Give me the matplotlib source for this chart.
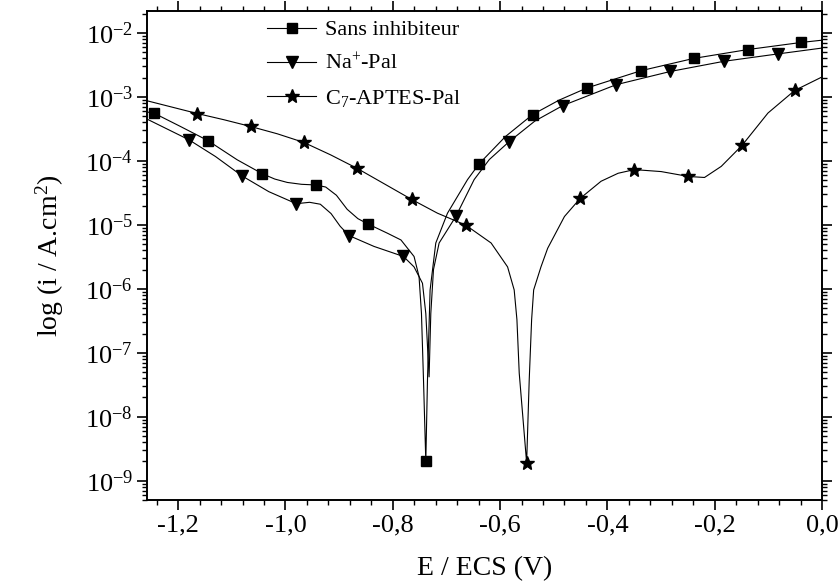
import matplotlib
matplotlib.use("Agg")
import matplotlib.pyplot as plt
from matplotlib.ticker import MultipleLocator, FuncFormatter, LogLocator, LogFormatterMathtext

plt.rcParams['font.family'] = ['Liberation Serif', 'DejaVu Serif']
plt.rcParams['mathtext.fontset'] = 'custom'
plt.rcParams['mathtext.rm'] = 'Liberation Serif'
plt.rcParams['mathtext.it'] = 'Liberation Serif:italic'

# Sans inhibiteur
sans_E = [-1.258, -1.2455, -1.1957, -1.1448, -1.09, -1.0432, -1.02, -0.9966, -0.97, -0.9437,
          -0.925, -0.905, -0.885, -0.865, -0.8461, -0.81, -0.7847, -0.7603, -0.751, -0.7465,
          -0.7427, -0.7384, -0.7353, -0.7304, -0.7198, -0.698, -0.6606, -0.639, -0.59, -0.5393,
          -0.49, -0.438, -0.3372, -0.2388, -0.138, -0.0386, 0.0]
sans_i = [5.8e-4, 5.6e-4, 3.45e-4, 2.08e-4, 1.04e-4, 6.3e-5, 5.2e-5, 4.6e-5, 4.3e-5, 4.2e-5,
          3.9e-5, 2.9e-5, 1.75e-5, 1.25e-5, 1.03e-5, 7.4e-6, 5.8e-6, 3.2e-6, 1.55e-6, 4.1e-7,
          3.75e-8, 2.0e-9, 3.75e-8, 9.6e-7, 5.2e-6, 1.52e-5, 5.1e-5, 9.0e-5, 2.4e-4, 5.3e-4,
          8.9e-4, 1.38e-3, 2.57e-3, 4.0e-3, 5.5e-3, 7.1e-3, 7.7e-3]
sans_mk_E = [-1.2455, -1.1448, -1.0432, -0.9437, -0.8461, -0.7384, -0.639, -0.5393, -0.438,
             -0.3372, -0.2388, -0.138, -0.0386]
sans_mk_i = [5.6e-4, 2.08e-4, 6.3e-5, 4.2e-5, 1.03e-5, 2.0e-9, 9.0e-5, 5.3e-4, 1.38e-3,
             2.57e-3, 4.0e-3, 5.5e-3, 7.1e-3]

# Na+-Pal
na_E = [-1.258, -1.18, -1.1304, -1.0806, -1.031, -0.9798, -0.955, -0.935, -0.915, -0.898,
        -0.8816, -0.835, -0.78, -0.7603, -0.7446, -0.7384, -0.7323, -0.7291, -0.7241, -0.7136,
        -0.6825, -0.6483, -0.62, -0.583, -0.535, -0.4833, -0.3838, -0.2825, -0.1828, -0.082, 0.0]
na_i = [4.5e-4, 2.14e-4, 1.17e-4, 5.8e-5, 3.3e-5, 2.14e-5, 2.25e-5, 2.1e-5, 1.5e-5, 9.5e-6,
        6.8e-6, 4.6e-6, 3.2e-6, 2.2e-6, 1.22e-6, 4.1e-7, 4.2e-8, 4.1e-7, 2.0e-6, 5.2e-6,
        1.35e-5, 5.1e-5, 1.05e-4, 2.0e-4, 4.2e-4, 7.3e-4, 1.55e-3, 2.5e-3, 3.6e-3, 4.7e-3, 5.8e-3]
na_mk_E = [-1.18, -1.0806, -0.9798, -0.8816, -0.78, -0.6825, -0.583, -0.4833, -0.3838,
           -0.2825, -0.1828, -0.082]
na_mk_i = [2.14e-4, 5.8e-5, 2.14e-5, 6.8e-6, 3.2e-6, 1.35e-5, 2.0e-4, 7.3e-4, 1.55e-3,
           2.5e-3, 3.6e-3, 4.7e-3]

# C7-APTES-Pal
c7_E = [-1.258, -1.1645, -1.1149, -1.065, -1.0152, -0.9656, -0.9157, -0.866, -0.8163, -0.765,
        -0.7166, -0.664, -0.6167, -0.586, -0.5737, -0.5686, -0.5643, -0.5505, -0.5457, -0.5412,
        -0.5374, -0.5238, -0.5113, -0.48, -0.4505, -0.4118, -0.38, -0.3497, -0.2998, -0.2489,
        -0.219, -0.1878, -0.1492, -0.1007, -0.051, 0.0]
c7_i = [8.7e-4, 5.5e-4, 4.4e-4, 3.45e-4, 2.65e-4, 1.94e-4, 1.24e-4, 7.6e-5, 4.4e-5, 2.5e-5,
        1.52e-5, 9.9e-6, 5.2e-6, 2.2e-6, 9.6e-7, 3.3e-7, 4.8e-8, 1.9e-9, 3.75e-8, 3.3e-7,
        9.6e-7, 2.2e-6, 4.3e-6, 1.35e-5, 2.6e-5, 4.8e-5, 6.4e-5, 7.3e-5, 6.8e-5, 5.7e-5,
        5.5e-5, 8.2e-5, 1.74e-4, 5.6e-4, 1.26e-3, 2.05e-3]
c7_mk_E = [-1.1645, -1.065, -0.9656, -0.866, -0.765, -0.664, -0.5505, -0.4505, -0.3497,
           -0.2489, -0.1492, -0.051]
c7_mk_i = [5.5e-4, 3.45e-4, 1.94e-4, 7.6e-5, 2.5e-5, 9.9e-6, 1.9e-9, 2.6e-5, 7.3e-5,
           5.7e-5, 1.74e-4, 1.26e-3]

labels = ['Sans inhibiteur', 'Na$^{+}$-Pal', 'C$_{7}$-APTES-Pal']

fig = plt.figure(figsize=(8.4, 5.86), dpi=100)
ax = fig.add_axes([0.175, 0.1468, 0.8036, 0.8344])

series = [(sans_E, sans_i, sans_mk_E, sans_mk_i, 's', 7.5),
          (na_E, na_i, na_mk_E, na_mk_i, 'v', 9),
          (c7_E, c7_i, c7_mk_E, c7_mk_i, '*', 10)]
handles = []
for (E, i, mE, mi, mk, ms), lab in zip(series, labels):
    ax.plot(E, i, color='black', lw=0.8)
    ax.plot(mE, mi, ls='none', marker=mk, ms=ms, color='black')
    h, = ax.plot([], [], color='black', lw=0.8, marker=mk, ms=ms)
    handles.append(h)

ax.set_yscale('log')
ax.set_xlim(-1.258, 0.0)
ax.set_ylim(5e-10, 2.2e-2)

ax.xaxis.set_major_locator(MultipleLocator(0.2))
ax.xaxis.set_minor_locator(MultipleLocator(0.04))
ax.xaxis.set_major_formatter(FuncFormatter(lambda v, p: ("%.1f" % v).replace('.', ',').replace('-0,0', '0,0')))
ax.yaxis.set_major_locator(LogLocator(base=10, numticks=20))
ax.yaxis.set_minor_locator(LogLocator(base=10, subs=range(2, 10), numticks=20))
ax.yaxis.set_major_formatter(LogFormatterMathtext())

ax.tick_params(axis='both', which='major', direction='out', length=7, width=1.2, labelsize=19)
ax.tick_params(axis='both', which='minor', direction='out', length=3.5, width=1)
ax.tick_params(axis='x', which='both', top=True)
ax.tick_params(axis='y', which='both', right=True)
ax.tick_params(axis='y', which='major', pad=3)
for s in ax.spines.values():
    s.set_linewidth(1.4)

ax.set_xlabel('E / ECS (V)', fontsize=20, labelpad=14)
ax.set_ylabel('log (i / A.cm$^{2}$)', fontsize=20, labelpad=14)

ax.legend(handles, labels, loc='upper left', bbox_to_anchor=(0.305, 0.985),
          bbox_transform=fig.transFigure, frameon=False, fontsize=16,
          handlelength=2.2, handletextpad=0.4, labelspacing=0.6, borderpad=0)

fig.savefig('out.png', dpi=100)
